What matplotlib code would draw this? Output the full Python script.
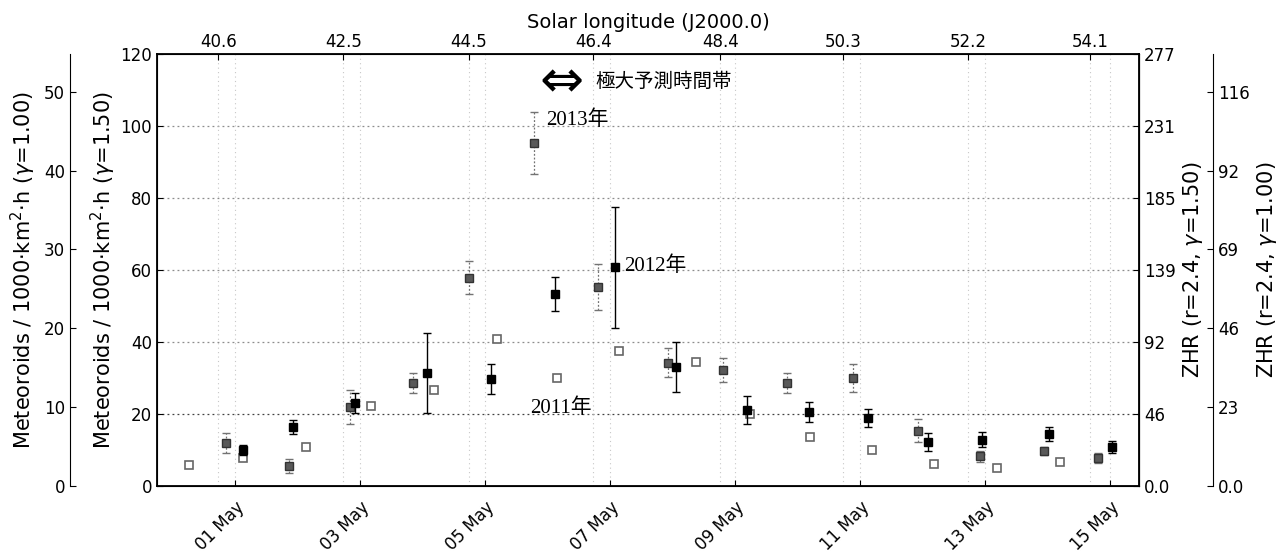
import numpy as np
import matplotlib
matplotlib.use('Agg')
import matplotlib.pyplot as plt

# Data (x = day of May, y = meteoroids / 1000 km^2 h, gamma = 1.50)
# 2013: gray squares, dotted error bars
day_2013 = [0.86, 1.86, 2.84, 3.85, 4.74, 5.78, 6.81, 7.93, 8.81, 9.83, 10.89, 11.93, 12.92, 13.94, 14.81]
val_2013 = [12.0, 5.6, 22.0, 28.6, 57.8, 95.3, 55.3, 34.2, 32.2, 28.6, 30.0, 15.3, 8.3, 9.7, 7.8]
err_2013 = [2.7, 2.0, 4.8, 2.8, 4.6, 8.5, 6.5, 4.0, 3.3, 2.8, 4.0, 3.2, 1.5, 1.2, 1.5]

# 2012: black squares, solid error bars
day_2012 = [1.13, 1.93, 2.92, 4.07, 5.10, 6.12, 7.08, 8.06, 9.19, 10.18, 11.13, 12.09, 12.95, 14.02, 15.03]
val_2012 = [10.0, 16.4, 23.0, 31.4, 29.7, 53.3, 60.8, 33.0, 21.1, 20.6, 18.9, 12.2, 12.8, 14.4, 10.8]
err_2012 = [1.5, 2.0, 2.8, 11.0, 4.2, 4.7, 16.8, 7.0, 3.9, 2.8, 2.5, 2.5, 2.1, 2.0, 1.7]

# 2011: open squares
day_2011 = [0.26, 1.13, 2.14, 3.18, 4.18, 5.19, 6.15, 7.14, 8.38, 9.24, 10.20, 11.19, 12.18, 13.19, 14.20]
val_2011 = [5.8, 7.8, 10.9, 22.2, 26.7, 40.8, 30.0, 37.5, 34.4, 20.0, 13.6, 10.0, 6.1, 5.0, 6.7]

# Axis ticks
date_ticks = [1, 3, 5, 7, 9, 11, 13, 15]
date_labels = ['01 May', '03 May', '05 May', '07 May', '09 May', '11 May', '13 May', '15 May']
sollon_ticks = [0.73, 2.73, 4.74, 6.73, 8.76, 10.73, 12.73, 14.68]
sollon_labels = ['40.6', '42.5', '44.5', '46.4', '48.4', '50.3', '52.2', '54.1']
main_ticks = [0, 20, 40, 60, 80, 100, 120]
zhr150_labels = ['0.0', '46', '92', '139', '185', '231', '277']
g100_ticks = [0, 10, 20, 30, 40, 50]
zhr100_labels = ['0.0', '23', '46', '69', '92', '116']

plt.rcParams['font.family'] = ['DejaVu Sans', 'Noto Sans CJK JP']
cjk_serif = ['Liberation Serif', 'Noto Sans CJK JP']

fig = plt.figure(figsize=(12.85, 5.56), dpi=100)
ax = fig.add_axes([0.1222, 0.1259, 0.7642, 0.777])

# Grid
ax.set_xlim(-0.25, 15.46)
ax.set_ylim(0, 120)
for y in [20, 40, 60, 80, 100]:
    ax.axhline(y, color='0.25' if y == 20 else '0.55', ls=(0, (1.5, 2.5)), lw=0.9, zorder=0)
for x in date_ticks + sollon_ticks:
    ax.axvline(x, color='0.78', ls=(0, (1, 3)), lw=0.8, zorder=0)

# Series
ax.errorbar(day_2013, val_2013, yerr=err_2013, fmt='s', ms=5.5, color='0.35', mfc='0.35',
            mec='0.2', ecolor='0.45', elinewidth=0.9, capsize=3, zorder=3)
eb = ax.containers[-1]
for line in eb[2]:
    line.set_linestyle((0, (1.5, 1.5)))
ax.errorbar(day_2012, val_2012, yerr=err_2012, fmt='s', ms=6, color='black',
            ecolor='black', elinewidth=1.0, capsize=3, zorder=4)
ax.plot(day_2011, val_2011, 's', ms=6, mfc='white', mec='0.4', mew=1.2, zorder=3)

# Annotations
ax.text(6.22, 112.2, '\u21d4', fontsize=38, ha='center', va='center', family='DejaVu Sans')
ax.text(6.76, 112.2, '極大予測時間帯', fontsize=14, ha='left', va='center', family=cjk_serif)
ax.text(5.98, 101.5, '2013年', fontsize=15, ha='left', va='center', family=cjk_serif)
ax.text(7.22, 61.0, '2012年', fontsize=15, ha='left', va='center', family=cjk_serif)
ax.text(5.72, 21.5, '2011年', fontsize=15, ha='left', va='center', family=cjk_serif)

# Bottom axis
ax.set_xticks(date_ticks)
ax.set_xticklabels(date_labels, rotation=45, ha='right', rotation_mode='anchor', fontsize=12)
ax.set_yticks(main_ticks)
ax.tick_params(axis='both', labelsize=12, direction='in', length=4)
ax.tick_params(axis='x', pad=9)
ax.set_ylabel('Meteoroids / 1000$\\cdot$km$^2$$\\cdot$h ($\\gamma$=1.50)', fontsize=15, labelpad=2)
for s in ax.spines.values():
    s.set_linewidth(1.3)

# Top axis: solar longitude
axt = ax.twiny()
axt.set_xlim(ax.get_xlim())
axt.set_xticks(sollon_ticks)
axt.set_xticklabels(sollon_labels, fontsize=12)
axt.tick_params(axis='x', direction='in', length=4, pad=2)
axt.set_xlabel('Solar longitude (J2000.0)', fontsize=14, labelpad=4)

# Outer left axis (gamma = 1.00)
axl = ax.twinx()
axl.set_ylim(0, 54.8)
axl.spines['left'].set_position(('axes', -0.0886))
axl.spines['left'].set_visible(True)
for k in ['top', 'bottom', 'right']:
    axl.spines[k].set_visible(False)
axl.yaxis.set_ticks_position('left')
axl.yaxis.set_label_position('left')
axl.set_yticks(g100_ticks)
axl.tick_params(axis='y', labelsize=12, direction='in', length=4)
axl.set_ylabel('Meteoroids / 1000$\\cdot$km$^2$$\\cdot$h ($\\gamma$=1.00)', fontsize=15, labelpad=4)

# Inner right axis: ZHR (gamma = 1.50)
axr = ax.twinx()
axr.set_ylim(0, 120)
axr.set_yticks(main_ticks)
axr.set_yticklabels(zhr150_labels)
axr.tick_params(axis='y', labelsize=12, direction='in', length=4)
axr.set_ylabel('ZHR (r=2.4, $\\gamma$=1.50)', fontsize=15, labelpad=4)
for k in ['top', 'bottom', 'left']:
    axr.spines[k].set_visible(False)

# Outer right axis: ZHR (gamma = 1.00)
axr2 = ax.twinx()
axr2.set_ylim(0, 54.8)
axr2.spines['right'].set_position(('axes', 1.0754))
for k in ['top', 'bottom', 'left']:
    axr2.spines[k].set_visible(False)
axr2.set_yticks(g100_ticks)
axr2.set_yticklabels(zhr100_labels)
axr2.tick_params(axis='y', labelsize=12, direction='in', length=4)
axr2.set_ylabel('ZHR (r=2.4, $\\gamma$=1.00)', fontsize=15, labelpad=4)

fig.savefig('out.png', dpi=100)
